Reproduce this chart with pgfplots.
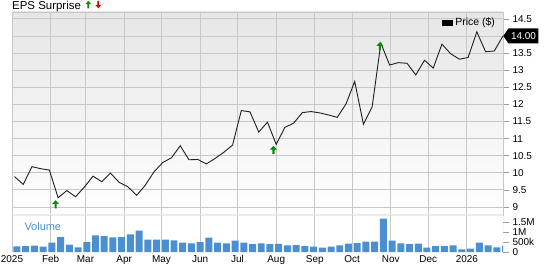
\documentclass[border=0pt]{standalone}
\usepackage{pgfplots}
\pgfplotsset{compat=1.18}
\usepackage{fontspec}
\setmainfont{Liberation Sans}
\usetikzlibrary{shapes.symbols}
\definecolor{gridc}{HTML}{C8C8C8}
\definecolor{tickc}{HTML}{A0A0A0}
\definecolor{volc}{HTML}{4A90D0}
\definecolor{bgtop}{HTML}{E6E6E6}
\definecolor{upg}{HTML}{0A8A0A}
\definecolor{dnr}{HTML}{E00000}
\pgfdeclareplotmark{uparrow}{%
  \pgfpathmoveto{\pgfpoint{0bp}{4bp}}%
  \pgfpathlineto{\pgfpoint{3.5bp}{0.3bp}}%
  \pgfpathlineto{\pgfpoint{1.1bp}{0.3bp}}%
  \pgfpathlineto{\pgfpoint{1.1bp}{-4bp}}%
  \pgfpathlineto{\pgfpoint{-1.1bp}{-4bp}}%
  \pgfpathlineto{\pgfpoint{-1.1bp}{0.3bp}}%
  \pgfpathlineto{\pgfpoint{-3.5bp}{0.3bp}}%
  \pgfpathclose\pgfusepathqfill}
\pgfplotstableread{
day price
2 9.89
9 9.66
16 10.18
23 10.12
30 10.08
37 9.27
44 9.48
51 9.30
58 9.58
65 9.90
72 9.74
79 9.99
86 9.72
93 9.59
100 9.34
107 9.64
114 10.03
121 10.30
128 10.44
135 10.79
142 10.38
149 10.39
156 10.26
163 10.42
170 10.60
177 10.81
184 11.82
191 11.78
198 11.19
205 11.48
212 10.83
219 11.33
226 11.45
233 11.76
240 11.79
247 11.75
254 11.69
261 11.62
268 12.01
275 12.67
282 11.42
289 11.93
296 13.79
303 13.15
310 13.22
317 13.20
324 12.86
331 13.29
338 13.06
345 13.76
352 13.48
359 13.32
366 13.37
373 14.12
380 13.54
387 13.56
394 14.00
}\pricetable
\pgfplotstableread{
day vol
4 0.28
11 0.30
18 0.32
25 0.27
32 0.47
39 0.75
46 0.37
53 0.23
60 0.50
67 0.83
74 0.80
81 0.73
88 0.75
95 0.88
102 1.07
109 0.62
116 0.62
123 0.62
130 0.58
137 0.47
144 0.43
151 0.50
158 0.72
165 0.47
172 0.43
179 0.57
186 0.47
193 0.40
200 0.43
207 0.39
214 0.41
221 0.33
228 0.35
235 0.30
242 0.27
249 0.22
256 0.27
263 0.33
270 0.42
277 0.45
284 0.52
291 0.52
298 1.67
305 0.57
312 0.43
319 0.40
326 0.42
333 0.22
340 0.30
347 0.30
354 0.33
361 0.13
368 0.17
375 0.47
382 0.33
389 0.23
396 0.32
}\voltable
\pgfplotsset{
  common/.style={
    scale only axis, width=491bp, xmin=0, xmax=394,
    xtick={0,31,59,90,120,151,181,212,243,273,304,334,365},
    xmajorgrids, grid style={gridc, line width=0.8bp},
    xtick style={draw=none},
    ytick pos=right, yticklabel pos=right,
    ytick style={draw=tickc, line width=0.6bp},
    tick align=outside, major tick length=6bp,
    /pgf/number format/assume math mode=true,
    tick label style={font=\fontsize{10}{12}\selectfont},
  }
}
\begin{document}
\begin{tikzpicture}
\path[use as bounding box] (0bp,0bp) rectangle (545bp,-264bp);
\begin{axis}[common, at={(12bp,-12bp)}, anchor=north west, height=203bp,
  ymin=8.766, ymax=14.70,
  ytick={9,9.5,10,10.5,11,11.5,12,12.5,13,13.5,14,14.5},
  yticklabels={9,9.5,10,10.5,11,11.5,12,12.5,13,13.5,,14.5},
  ymajorgrids,
  xticklabels={},
  clip mode=individual,
  axis line style={draw=gridc, line width=0.8bp},
  axis background/.style={top color=bgtop, middle color=white, bottom color=white},
  legend style={draw=none, fill=none, at={(0.99,0.985)}, anchor=north east,
    font=\fontsize{10.5}{12}\selectfont, inner sep=1bp},
  legend image code/.code={\fill[black] (0bp,-2.5bp) rectangle (10bp,2.5bp);},
]
\addplot[draw=black!88, line width=0.9bp, mark=none] table[x=day, y=price] {\pricetable};
\addlegendentry{Price (\$)}
\addplot[only marks, mark=uparrow, color=upg, forget plot] coordinates {(35,9.08) (209.8,10.67) (295.2,13.70)};
\draw[gridc!80!black!20, line width=2.2bp] (rel axis cs:0,0) -- (rel axis cs:1,0);
\node[signal, signal to=west, signal pointer angle=110, fill=black, text=white,
  font=\fontsize{10}{12}\selectfont, anchor=west, inner xsep=2.5bp, inner ysep=2bp,
  minimum height=15bp] at (axis cs:394,14.0) {14.00};
\end{axis}
\begin{axis}[common, at={(12bp,-215bp)}, anchor=north west, height=37bp,
  ymin=0, ymax=1.85,
  ytick={0,0.5,1,1.5}, yticklabels={0,500k,1M,1.5M},
  xticklabels={2025,Feb,Mar,Apr,May,Jun,Jul,Aug,Sep,Oct,Nov,Dec,2026},
  xticklabel style={yshift=6bp},
  axis line style={draw=none},
]
\addplot[ybar, bar width=5.6, bar shift=0pt, fill=volc, draw=none] table[x=day, y=vol] {\voltable};
\draw[gridc, line width=0.8bp] (rel axis cs:1,0) -- (rel axis cs:1,1);
\end{axis}
\node[anchor=west, text=volc, font=\fontsize{11}{13}\selectfont] at (21bp,-227bp) {Volume};
\node[anchor=base west, font=\fontsize{11.5}{13}\selectfont, inner sep=0pt] at (12bp,-9.5bp) {EPS Surprise};
\fill[upg] (88.3bp,-0.8bp) -- (91.2bp,-4.2bp) -- (89.2bp,-4.2bp) -- (89.2bp,-8.3bp) -- (87.4bp,-8.3bp) -- (87.4bp,-4.2bp) -- (85.4bp,-4.2bp) -- cycle;
\fill[dnr] (98.3bp,-8.3bp) -- (101.2bp,-4.9bp) -- (99.2bp,-4.9bp) -- (99.2bp,-0.8bp) -- (97.4bp,-0.8bp) -- (97.4bp,-4.9bp) -- (95.4bp,-4.9bp) -- cycle;
\end{tikzpicture}
\end{document}
